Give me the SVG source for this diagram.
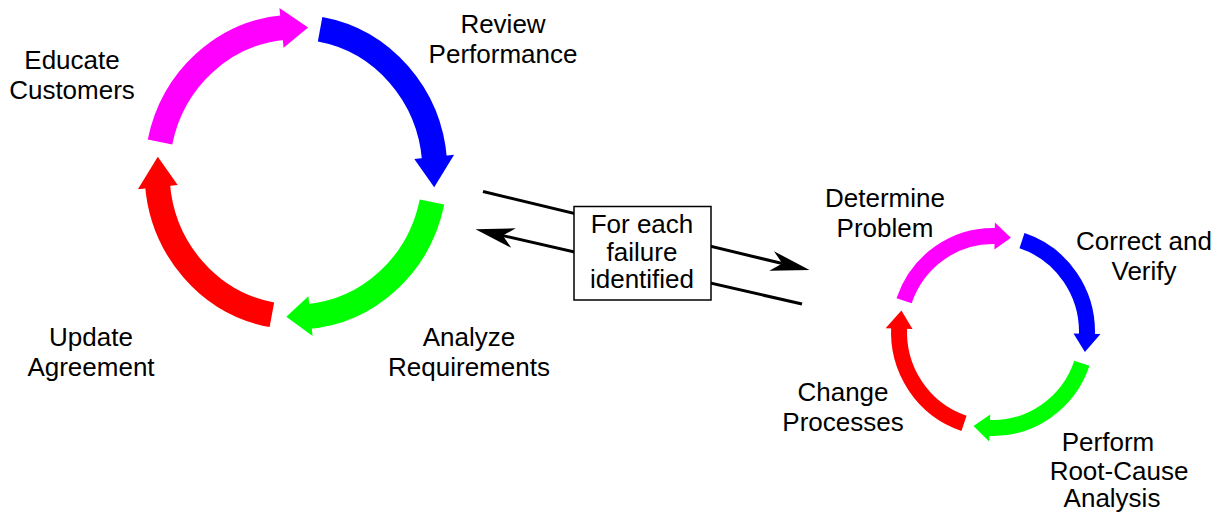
<svg xmlns="http://www.w3.org/2000/svg" width="1219" height="512" viewBox="0 0 1219 512">
<style>
.lbl{font-family:"Liberation Sans",Arial,sans-serif;font-size:26px;fill:#000;text-anchor:middle}
.big{fill:none;stroke-width:25;stroke-linecap:butt}
.small{fill:none;stroke-width:16;stroke-linecap:butt}
.conn{fill:none;stroke:#000;stroke-width:3}
.blue{stroke:#0000FF}.blueF{fill:#0000FF}
.green{stroke:#00FF00}.greenF{fill:#00FF00}
.red{stroke:#FF0000}.redF{fill:#FF0000}
.mag{stroke:#FF00FF}.magF{fill:#FF00FF}
</style>
<defs>
<marker id="ah" markerUnits="userSpaceOnUse" markerWidth="60" markerHeight="30" refX="0" refY="0" orient="auto" overflow="visible">
<path d="M28,0 L-11,-10 L0,0 L-11,10 Z" fill="#000"/>
</marker>
</defs>
<rect width="1219" height="512" fill="#fff"/>

<g id="connectors">
<path class="conn" d="M483,191.5 L782.3,263.5" marker-end="url(#ah)"/>
<path class="conn" d="M802,304 L502.8,235.6" marker-end="url(#ah)"/>
</g>

<g id="review-performance">
<path class="big blue" d="M320.1,29.2 A139,145 0 0 1 434.6,160.6"/>
<polygon class="blueF" points="454.1,154.8 434.2,187.2 414.3,158.9"/>
<text class="lbl" x="503" y="33">Review</text>
<text class="lbl" x="503" y="63">Performance</text>
</g>
<g id="analyze-requirements">
<path class="big green" d="M432,202.1 A139,145 0 0 1 306.9,316.6"/>
<polygon class="greenF" points="312.6,336.1 286.3,316.7 308.4,296.3"/>
<text class="lbl" x="469" y="346">Analyze</text>
<text class="lbl" x="469" y="376">Requirements</text>
</g>
<g id="update-agreement">
<path class="big red" d="M271.9,314.8 A139,145 0 0 1 157.4,183.4"/>
<polygon class="redF" points="137.9,189.2 157.8,156.8 177.7,185.1"/>
<text class="lbl" x="91" y="346">Update</text>
<text class="lbl" x="91" y="376">Agreement</text>
</g>
<g id="educate-customers">
<path class="big mag" d="M160,141.9 A139,145 0 0 1 285.1,27.4"/>
<polygon class="magF" points="279.4,7.9 308.1,27.6 283.6,47.7"/>
<text class="lbl" x="72" y="69">Educate</text>
<text class="lbl" x="72" y="99">Customers</text>
</g>

<g id="failure-box">
<rect x="574" y="206.5" width="137" height="93.5" fill="#fff" stroke="#000" stroke-width="1.5"/>
<text class="lbl" x="642" y="233">For each</text>
<text class="lbl" x="642" y="261">failure</text>
<text class="lbl" x="642" y="288">identified</text>
</g>

<g id="correct-verify">
<path class="small blue" d="M1022,240.7 A94,96 0 0 1 1086.9,336.2"/>
<polygon class="blueF" points="1100.5,333.9 1084.9,352 1073.5,333.4"/>
<text class="lbl" x="1144" y="250">Correct and</text>
<text class="lbl" x="1144" y="280">Verify</text>
</g>
<g id="root-cause">
<path class="small green" d="M1081.9,363.3 A94,96 0 0 1 987.3,427.8"/>
<polygon class="greenF" points="989.2,441.4 973.5,425.9 990.2,414.5"/>
<text class="lbl" x="1108" y="451">Perform</text>
<text class="lbl" x="1119" y="480">Root-Cause</text>
<text class="lbl" x="1112" y="507">Analysis</text>
</g>
<g id="change-processes">
<path class="small red" d="M964,423.3 A94,96 0 0 1 899.2,326.1"/>
<polygon class="redF" points="885.6,328.2 901.4,310.4 912.5,329.1"/>
<text class="lbl" x="843" y="401">Change</text>
<text class="lbl" x="843" y="431">Processes</text>
</g>
<g id="determine-problem">
<path class="small mag" d="M904.1,300.7 A94,96 0 0 1 997.1,236.1"/>
<polygon class="magF" points="994.9,222.5 1010.9,237.8 994.4,249.5"/>
<text class="lbl" x="885" y="207">Determine</text>
<text class="lbl" x="885" y="237">Problem</text>
</g>
</svg>
